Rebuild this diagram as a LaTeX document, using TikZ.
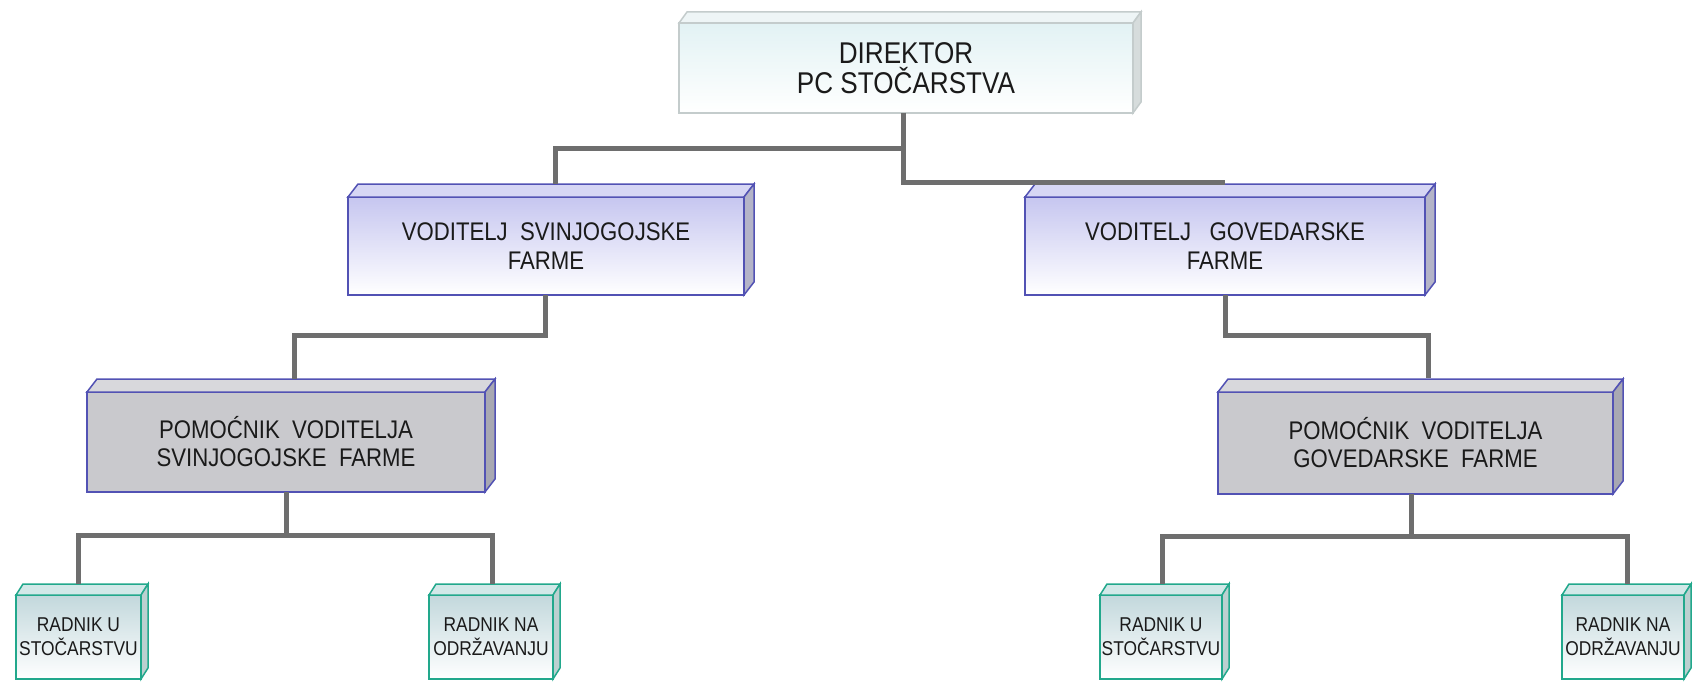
\documentclass[tikz,border=0pt]{standalone}
\usepackage{fontspec}
\setmainfont{Liberation Sans}[FakeStretch=0.87]
\usetikzlibrary{calc}
\definecolor{cConn}{HTML}{6E6E6E}
\definecolor{cText}{HTML}{1A1A1A}
\definecolor{cDirBorder}{HTML}{C4CCCC}
\definecolor{cDirTop}{HTML}{E2F2F4}
\definecolor{cDirLid}{HTML}{EEF5F6}
\definecolor{cDirSide}{HTML}{D6DCDC}
\definecolor{cVodBorder}{HTML}{5252B4}
\definecolor{cVodTop}{HTML}{C6C6F0}
\definecolor{cVodLid}{HTML}{D6D6F4}
\definecolor{cVodSide}{HTML}{B4B4C8}
\definecolor{cPomFill}{HTML}{C9C9CD}
\definecolor{cPomLid}{HTML}{D8D8DC}
\definecolor{cPomSide}{HTML}{A8A8B2}
\definecolor{cRadBorder}{HTML}{22A88C}
\definecolor{cRadTop}{HTML}{C2D8DC}
\definecolor{cRadLid}{HTML}{D2E8E8}
\definecolor{cRadSide}{HTML}{BCD0D0}
\tikzset{
  conn/.style={draw=cConn, line width=5pt},
  boxbase/.style={rectangle, inner sep=0pt, outer sep=0pt, line width=1.5pt, align=center, text=cText},
  dirfront/.style={boxbase, draw=cDirBorder, top color=cDirTop, bottom color=white, font=\fontsize{30}{30}\selectfont},
  dirtop/.style={draw=cDirBorder, fill=cDirLid, line width=1.5pt},
  dirside/.style={draw=cDirBorder, fill=cDirSide, line width=1.5pt},
  vodfront/.style={boxbase, draw=cVodBorder, top color=cVodTop, bottom color=white, font=\fontsize{25.5}{29}\selectfont},
  vodtop/.style={draw=cVodBorder, fill=cVodLid, line width=1.5pt},
  vodside/.style={draw=cVodBorder, fill=cVodSide, line width=1.5pt},
  pomfront/.style={boxbase, draw=cVodBorder, fill=cPomFill, font=\fontsize{25.5}{28}\selectfont},
  pomtop/.style={draw=cVodBorder, fill=cPomLid, line width=1.5pt},
  pomside/.style={draw=cVodBorder, fill=cPomSide, line width=1.5pt},
  radfront/.style={boxbase, draw=cRadBorder, top color=cRadTop, bottom color=white, font=\fontsize{20}{24}\selectfont},
  radtop/.style={draw=cRadBorder, fill=cRadLid, line width=1.5pt},
  radside/.style={draw=cRadBorder, fill=cRadSide, line width=1.5pt},
}
% #1 name, #2 position, #3 width, #4 height, #5 style prefix, #6 dx, #7 dy, #8 text
\newcommand\cubenode[8]{%
  \node[#5front, minimum width=#3pt, minimum height=#4pt] (#1) at #2 {#8};
  \filldraw[#5top] (#1.north west) -- ++(#6,-#7) -- ($(#1.north east)+(#6,-#7)$) -- (#1.north east) -- cycle;
  \filldraw[#5side] (#1.north east) -- ++(#6,-#7) -- ($(#1.south east)+(#6,-#7)$) -- (#1.south east) -- cycle;
}
\begin{document}
\begin{tikzpicture}[x=1pt, y=-1pt]
  \fill[white] (0,0) rectangle (1695,682);
  \useasboundingbox (0,0) rectangle (1695,682);

  \cubenode{dir}{(906,68)}{454}{90}{dir}{8}{11}{DIREKTOR\\PC STOČARSTVA}
  \cubenode{vs}{(546,246)}{396}{98}{vod}{10}{13}{VODITELJ~~SVINJOGOJSKE\\FARME}
  \cubenode{vg}{(1225,246)}{400}{98}{vod}{10}{13}{VODITELJ~~~GOVEDARSKE\\FARME}
  \cubenode{ps}{(286,442)}{398}{100}{pom}{10}{13}{POMOĆNIK~~VODITELJA\\SVINJOGOJSKE~~FARME}
  \cubenode{pg}{(1415.5,443)}{395}{102}{pom}{10}{13}{POMOĆNIK~~VODITELJA\\GOVEDARSKE~~FARME}
  \cubenode{rs1}{(78.5,637)}{125}{84}{rad}{7}{11}{RADNIK U\\STOČARSTVU}
  \cubenode{rs2}{(491,637)}{124}{84}{rad}{7}{11}{RADNIK NA\\ODRŽAVANJU}
  \cubenode{rg1}{(1161,637)}{122}{84}{rad}{7}{11}{RADNIK U\\STOČARSTVU}
  \cubenode{rg2}{(1623,637)}{122}{84}{rad}{7}{11}{RADNIK NA\\ODRŽAVANJU}

  % connectors
  \draw[conn] ([xshift=-3pt]dir.south) -- ++(0,36) -| ($(vs.north)+(9,-13)$);
  \draw[conn] ([xshift=-3pt]dir.south) |- ($(vg.north)+(0,-15)$);
  \draw[conn] ($(vs.south)+(-1,0)$) -- ++(0,40) -| ($(ps.north)+(8,-13)$);
  \draw[conn] (vg.south) -- ++(0,40) -| ($(pg.north)+(13,-14)$);
  \draw[conn] (ps.south) -- ++(0,43) coordinate (psj);
  \draw[conn] ($(rs1.north)+(0,-11)$) |- (psj) -| ($(rs2.north)+(1,-11)$);
  \draw[conn] ($(pg.south)+(-4,0)$) -- ++(0,42) coordinate (pgj);
  \draw[conn] ($(rg1.north)+(1,-11)$) |- (pgj) -| ($(rg2.north)+(4,-11)$);
\end{tikzpicture}
\end{document}
